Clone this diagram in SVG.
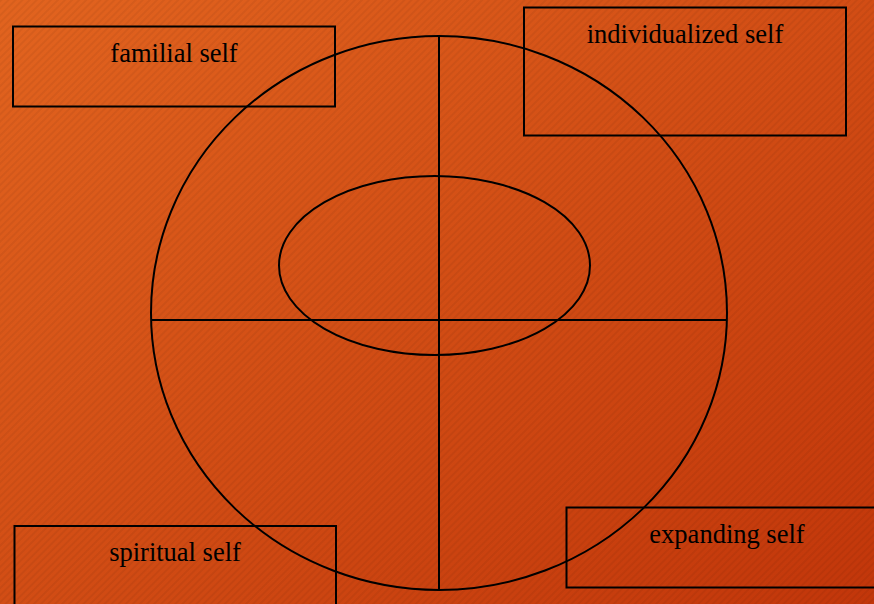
<svg xmlns="http://www.w3.org/2000/svg" width="874" height="604" viewBox="0 0 874 604">
<defs>
<linearGradient id="bg" x1="0" y1="0" x2="1" y2="1">
<stop offset="0" stop-color="#E2641F"/>
<stop offset="1" stop-color="#C2360A"/>
</linearGradient>
<pattern id="stripes" width="5" height="5" patternUnits="userSpaceOnUse" patternTransform="rotate(-45)">
<rect width="5" height="2" fill="#000" fill-opacity="0.05"/>
</pattern>
</defs>
<style>
.box{fill:none;stroke:#000;stroke-width:2}
.ln{fill:none;stroke:#000;stroke-width:2}
.lbl{font-family:"Liberation Serif","Times New Roman",serif;font-size:26.5px;fill:#000;text-anchor:middle}
</style>
<rect width="874" height="604" fill="url(#bg)"/>
<rect width="874" height="604" fill="url(#stripes)"/>
<g id="connectors">
<ellipse class="ln" cx="439" cy="313" rx="288" ry="277"/>
<ellipse class="ln" cx="434.5" cy="265.5" rx="155.5" ry="89.5"/>
<line class="ln" x1="151" y1="320" x2="727" y2="320"/>
<line class="ln" x1="439" y1="36" x2="439" y2="590"/>
</g>
<g id="familial">
<rect class="box" x="13" y="26.5" width="322" height="80"/>
<text class="lbl" x="174" y="62">familial self</text>
</g>
<g id="individualized">
<rect class="box" x="524" y="7.5" width="322" height="128"/>
<text class="lbl" x="685" y="43">individualized self</text>
</g>
<g id="spiritual">
<rect class="box" x="14.5" y="526" width="321.5" height="90"/>
<text class="lbl" x="175" y="561">spiritual self</text>
</g>
<g id="expanding">
<rect class="box" x="566.5" y="507.5" width="320" height="80"/>
<text class="lbl" x="727" y="543">expanding self</text>
</g>
</svg>
